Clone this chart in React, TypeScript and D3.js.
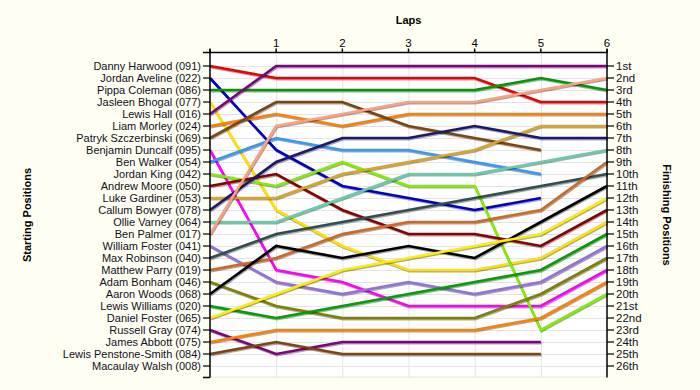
import React from "react";
import * as d3 from "d3";

const drivers: string[] = [
  "Danny Harwood (091)", "Jordan Aveline (022)", "Pippa Coleman (086)", "Jasleen Bhogal (077)",
  "Lewis Hall (016)", "Liam Morley (024)", "Patryk Szczerbinski (069)", "Benjamin Duncalf (095)",
  "Ben Walker (054)", "Jordan King (042)", "Andrew Moore (050)", "Luke Gardiner (053)",
  "Callum Bowyer (078)", "Ollie Varney (064)", "Ben Palmer (017)", "William Foster (041)",
  "Max Robinson (040)", "Matthew Parry (019)", "Adam Bonham (046)", "Aaron Woods (068)",
  "Lewis Williams (020)", "Daniel Foster (065)", "Russell Gray (074)", "James Abbott (075)",
  "Lewis Penstone-Smith (084)", "Macaulay Walsh (008)",
];

const colors: string[] = [
  "#ee0000", "#0000cc", "#009a00", "#ffe000",
  "#800080", "#ff8000", "#7f4510", "#ff00ff",
  "#3399ff", "#80ee00", "#8b0000", "#daa520",
  "#191970", "#66cdaa", "#ffa07a", "#9370db",
  "#2f4f4f", "#d2691e", "#808000", "#000000",
  "#00a000", "#ffee00", "#800080", "#ff8000",
  "#7f4510", "#888888",
];

// positions at lap 0..n for each driver (in driver order)
const positions: number[][] = [
  [1, 2, 2, 2, 2, 4, 4],
  [2, 8, 11, 12, 13, 12],
  [3, 3, 3, 3, 3, 2, 3],
  [4, 13, 16, 18, 18, 17, 14],
  [5, 1, 1, 1, 1, 1, 1],
  [6, 5, 6, 5, 5, 5, 5],
  [7, 4, 4, 6, 7, 8],
  [8, 18, 19, 21, 21, 21, 18],
  [9, 7, 8, 8, 9, 10],
  [10, 11, 9, 11, 11, 23, 20],
  [11, 10, 13, 15, 15, 16, 13],
  [12, 12, 10, 9, 8, 6, 6],
  [13, 9, 7, 7, 6, 7, 7],
  [14, 14, 12, 10, 10, 9, 8],
  [15, 6, 5, 4, 4, 3, 2],
  [16, 19, 20, 19, 20, 19, 16],
  [17, 15, 14, 13, 12, 11, 10],
  [18, 17, 15, 14, 14, 13, 9],
  [19, 21, 22, 22, 22, 20, 17],
  [20, 16, 17, 16, 17, 14, 11],
  [21, 22, 21, 20, 19, 18, 15],
  [22, 20, 18, 17, 16, 15, 12],
  [23, 25, 24, 24, 24, 24],
  [24, 23, 23, 23, 23, 22, 19],
  [25, 24, 25, 25, 25, 25],
  [26],
];

const laps: number[] = [0, 1, 2, 3, 4, 5, 6];
const finishLabels: string[] = [
  "1st", "2nd", "3rd", "4th", "5th", "6th", "7th", "8th", "9th", "10th", "11th", "12th", "13th",
  "14th", "15th", "16th", "17th", "18th", "19th", "20th", "21st", "22nd", "23rd", "24th", "25th", "26th",
];

const W = 700, H = 390;
const FONT = "'Liberation Sans', Arial, sans-serif";

export default function App() {
  const x = d3.scaleLinear().domain([0, 6]).range([210, 607]);
  const y = d3.scaleLinear().domain([1, 26]).range([66, 366]);
  const top = 52.5, bottom = 377.5;
  const rows = d3.range(1, 27);
  const line = d3.line<number>().x((_, i) => x(i)).y((d) => y(d));

  return (
    <svg width={W} height={H} style={{ position: "absolute", left: 0, top: 0, display: "block" }}
      fontFamily={FONT}>
      <rect x={0} y={0} width={W} height={H} fill="#fffef3" />
      <rect x={x(0)} y={top} width={x(6) - x(0)} height={bottom - top} fill="#ffffff" />
      {/* gridlines */}
      {rows.map((r) => (
        <line key={"h" + r} x1={x(0)} x2={x(6)} y1={y(r) + 0.5} y2={y(r) + 0.5} stroke="#e4e4e4" strokeWidth={1} />
      ))}
      <line x1={x(0)} x2={x(6)} y1={bottom - 0.5} y2={bottom - 0.5} stroke="#e4e4e4" />
      {laps.slice(1, 6).map((l) => (
        <line key={"v" + l} x1={x(l) + 0.5} x2={x(l) + 0.5} y1={top} y2={bottom} stroke="#e4e4e4" strokeWidth={1} />
      ))}
      {/* lines: shadow + line */}
      {positions.map((p, i) =>
        p.length > 1 ? (
          <g key={"l" + i}>
            <path d={line(p) || ""} fill="none" stroke="#000" strokeOpacity={0.35} strokeWidth={2.6}
              transform="translate(0.8,1.2)" strokeLinejoin="miter" />
            <path d={line(p) || ""} fill="none" stroke={colors[i]} strokeWidth={2.6} strokeLinejoin="miter" />
          </g>
        ) : null
      )}
      {/* axes */}
      <line x1={x(0) - 0.5} x2={x(6) + 0.5} y1={top} y2={top} stroke="#000" strokeWidth={1.5} />
      <line x1={x(0)} x2={x(0)} y1={top - 3} y2={bottom} stroke="#000" strokeWidth={1.5} />
      <line x1={x(6)} x2={x(6)} y1={top - 3} y2={bottom} stroke="#000" strokeWidth={1.5} />
      {laps.map((l) => (
        <g key={"t" + l}>
          <line x1={x(l)} x2={x(l)} y1={top - 4} y2={top} stroke="#000" strokeWidth={1.5} />
          {l > 0 ? (
            <text x={x(l)} y={47} textAnchor="middle" fontSize={11.5} fill="#000">{l}</text>
          ) : null}
        </g>
      ))}
      {/* left ticks and labels */}
      <line x1={x(0) - 7} x2={x(0)} y1={top} y2={top} stroke="#000" strokeWidth={1.5} />
      <line x1={x(0) - 7} x2={x(0)} y1={bottom} y2={bottom} stroke="#000" strokeWidth={1.5} />
      {drivers.map((d, i) => (
        <g key={"ld" + i}>
          <line x1={x(0) - 7} x2={x(0)} y1={y(i + 1)} y2={y(i + 1)} stroke="#000" strokeWidth={1.2} />
          <text x={x(0) - 9} y={y(i + 1)} dy="0.35em" textAnchor="end" fontSize={11} fill="#101020">{d}</text>
        </g>
      ))}
      {/* right ticks and labels */}
      {finishLabels.map((f, i) => (
        <g key={"rd" + i}>
          <line x1={x(6)} x2={x(6) + 7} y1={y(i + 1)} y2={y(i + 1)} stroke="#000" strokeWidth={1.2} />
          <text x={x(6) + 9} y={y(i + 1)} dy="0.35em" textAnchor="start" fontSize={11.5} fill="#101020">{f}</text>
        </g>
      ))}
      {/* titles */}
      <text x={(x(0) + x(6)) / 2} y={24} textAnchor="middle" fontSize={11} fontWeight="bold" fill="#000">Laps</text>
      <text transform={`translate(31,${(top + bottom) / 2}) rotate(-90)`} textAnchor="middle" fontSize={11}
        fontWeight="bold" fill="#000">Starting Positions</text>
      <text transform={`translate(663,${(top + bottom) / 2}) rotate(90)`} textAnchor="middle" fontSize={11}
        fontWeight="bold" fill="#000">Finishing Positions</text>
    </svg>
  );
}
